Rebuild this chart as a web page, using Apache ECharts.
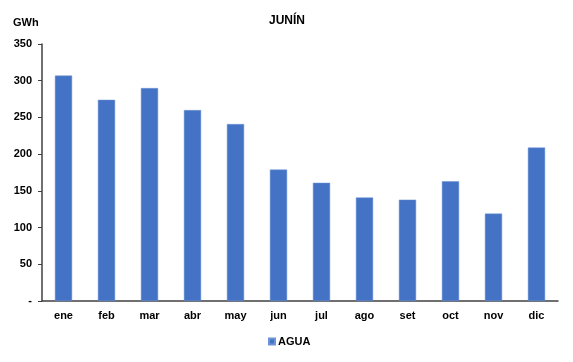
<!DOCTYPE html>
<html><head><meta charset="utf-8">
<script src="https://cdn.jsdelivr.net/npm/echarts@6/dist/echarts.min.js"></script>
<style>html,body{margin:0;padding:0;background:#fff}#c{width:573px;height:362px}</style>
</head><body><div id="c"></div>
<script>
const categories = ['ene','feb','mar','abr','may','jun','jul','ago','set','oct','nov','dic'];
const agua = [307, 274, 290, 260, 241, 179, 161, 141, 138, 163, 119, 209];
const yTicks = [0, 50, 100, 150, 200, 250, 300, 350];

const chart = echarts.init(document.getElementById('c'));
const font = 'Liberation Sans, Arial, sans-serif';
chart.setOption({
  animation: false,
  textStyle: { fontFamily: font },
  title: [
    { text: 'JUNÍN', left: 282, top: 10, textAlign: 'center',
      textStyle: { fontSize: 12, fontWeight: 'bold', color: '#000', fontFamily: font } },
    { text: 'GWh', left: 8, top: 12,
      textStyle: { fontSize: 11, fontWeight: 'bold', color: '#000', fontFamily: font } }
  ],
  legend: {
    bottom: 10, left: 263, itemWidth: 6, itemHeight: 6, itemGap: 4,
    icon: 'rect',
    textStyle: { fontSize: 11, fontWeight: 'bold', color: '#000', fontFamily: font, padding: [0,0,0,-2] },
    data: ['AGUA']
  },
  grid: { left: 42, right: 15, top: 44, bottom: 61, containLabel: false },
  xAxis: {
    type: 'category', data: categories,
    axisLine: { lineStyle: { color: '#404040', width: 1.5 } },
    axisTick: { show: false },
    axisLabel: { color: '#000', fontWeight: 'bold', fontSize: 11, margin: 9, fontFamily: font }
  },
  yAxis: {
    type: 'value', min: 0, max: 350, interval: 50,
    splitLine: { show: false },
    axisLine: { show: true, lineStyle: { color: '#404040', width: 1.5 } },
    axisTick: { show: true, length: 4, lineStyle: { color: '#404040' } },
    axisLabel: { color: '#000', fontWeight: 'bold', fontSize: 11, margin: 10, fontFamily: font,
      formatter: v => yTicks.includes(v) ? (v === 0 ? '-' : String(v)) : '' }
  },
  series: [{
    name: 'AGUA', type: 'bar', data: agua, barWidth: '40%',
    itemStyle: { color: '#4472C4', borderColor: '#6d93d6', borderWidth: 0.5 }
  }]
});
</script></body></html>
